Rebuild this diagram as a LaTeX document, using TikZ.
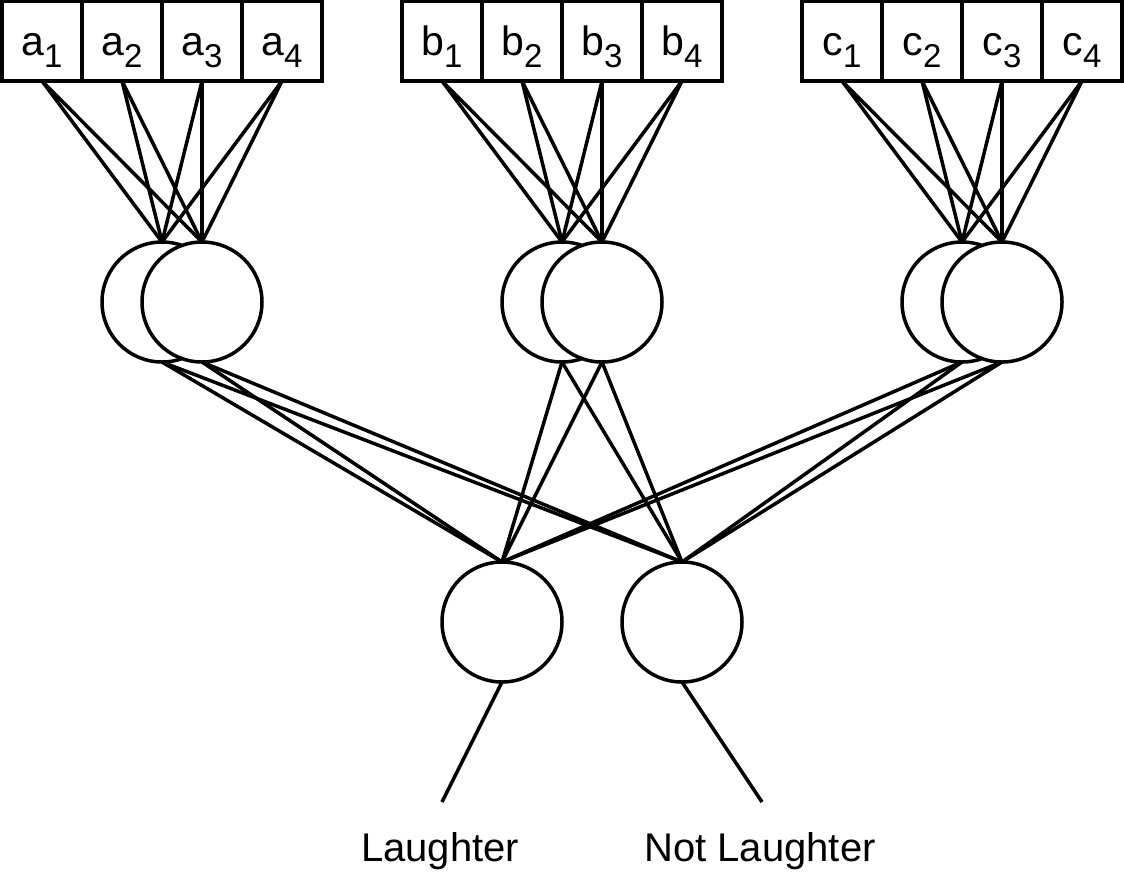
\documentclass[tikz,border=0pt]{standalone}
\usepackage{fontspec}
\setmainfont{Liberation Sans}
\pgfdeclarelayer{bg}
\pgfsetlayers{bg,main}
\newcommand{\lsub}[1]{\raisebox{-12pt}{\fontsize{33}{33}\selectfont #1}}
\begin{document}
\begin{tikzpicture}[x=1pt,y=-1pt,
 cell/.style={draw, fill=white, line width=3.5pt, minimum width=80pt, minimum height=79.5pt, inner sep=0pt, outer sep=0pt, font=\fontsize{41}{48}\selectfont, text height=27.5pt, text depth=0pt},
 neuron/.style={draw, circle, line width=3.5pt, fill=white, minimum size=120pt, inner sep=0pt, outer sep=0pt},
 wire/.style={line width=3.5pt},
 lbl/.style={font=\fontsize{40}{48}\selectfont, anchor=base, inner sep=0pt}]
\useasboundingbox (0,0) rectangle (1124,884);
\foreach \g/\x in {a/0,b/400,c/800} {
  \foreach \i in {1,...,4} {
    \node[cell] (\g\i) at (\x+42+80*\i-80, 41.25) {\g\lsub{\i}};
  }
  \node[neuron] (\g L) at (\x+162,302) {};
  \node[neuron] (\g R) at (\x+202,302) {};
}
\node[neuron] (o1) at (502,622) {};
\node[neuron] (o2) at (682,622) {};
\coordinate (e1) at (442,802);
\coordinate (e2) at (762,802);
\node[lbl] (t1) at (440,861) {Laughter};
\node[lbl] (t2) at (760,861) {Not Laughter};
\begin{pgfonlayer}{bg}
\foreach \g in {a,b,c} {
  \foreach \i in {1,...,4} {
    \draw[wire] (\g\i.south) -- (\g L.north);
    \draw[wire] (\g\i.south) -- (\g R.north);
  }
  \foreach \h in {L,R} {
    \draw[wire] (\g\h.south) -- (o1.north);
    \draw[wire] (\g\h.south) -- (o2.north);
  }
}
\draw[wire] (o1.south) -- (e1);
\draw[wire] (o2.south) -- (e2);
\end{pgfonlayer}
\end{tikzpicture}
\end{document}
